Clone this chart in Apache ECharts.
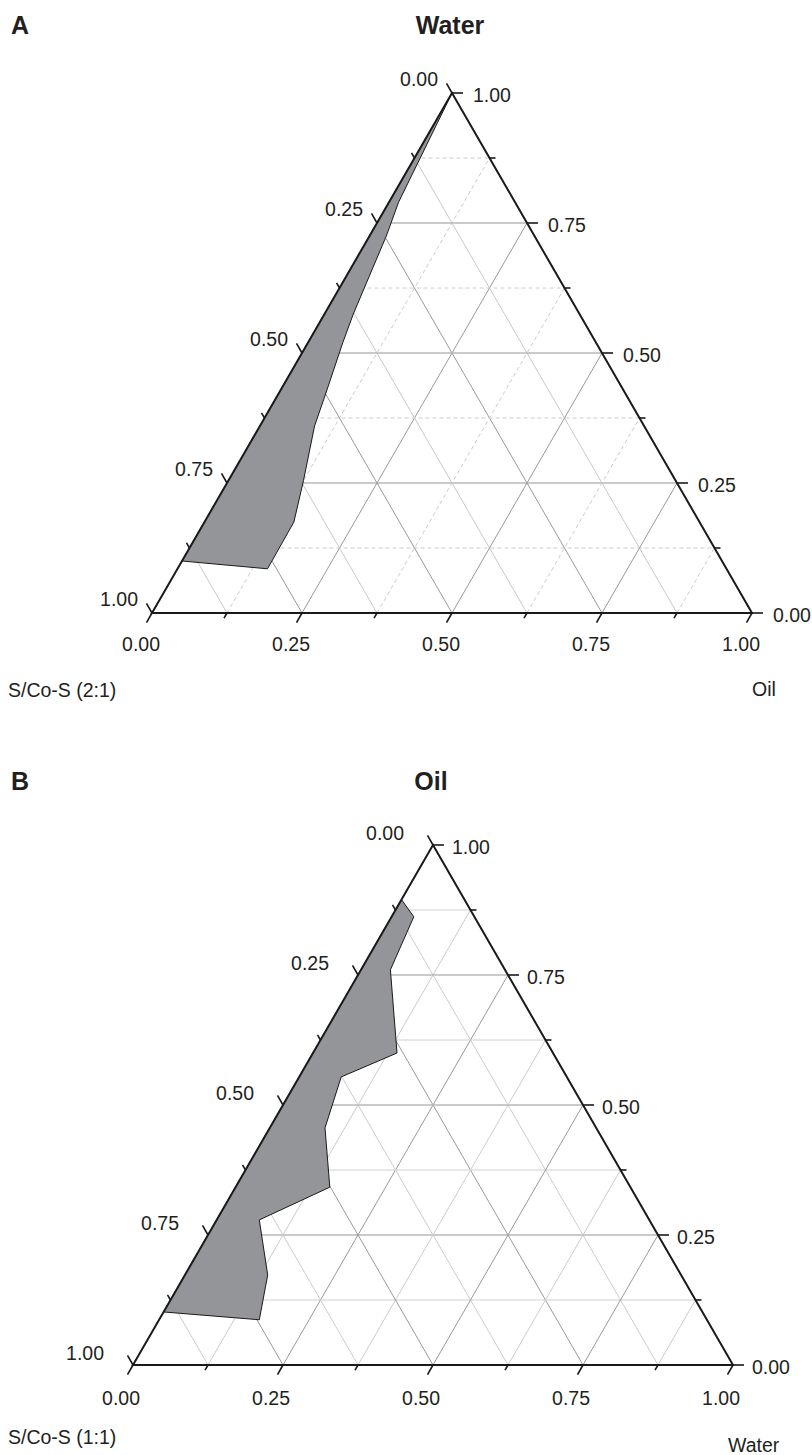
<!DOCTYPE html>
<html>
<head>
<meta charset="utf-8">
<script src="https://cdn.jsdelivr.net/npm/echarts@6/dist/echarts.min.js"></script>
<style>
html,body{margin:0;padding:0;background:#ffffff;}
#chart{width:812px;height:1455px;}
</style>
</head>
<body>
<div id="chart"></div>
<script>
// ---------- data ----------
const tickValues = [0, 0.125, 0.25, 0.375, 0.5, 0.625, 0.75, 0.875, 1];
const majorTicks = [0, 0.25, 0.5, 0.75, 1];
const tickLabels = ['0.00', '0.25', '0.50', '0.75', '1.00'];
const gridValues = [0.125, 0.25, 0.375, 0.5, 0.625, 0.75, 0.875];

// Panel A: top vertex = Water, right vertex = Oil, left vertex = S/Co-S (2:1)
const panelA_names = ['Water', 'Oil', 'S/Co-S (2:1)'];
const regionA_water = [1.00, 0.79, 0.725, 0.665, 0.575, 0.52, 0.415, 0.36, 0.255, 0.175, 0.085, 0.10];
const regionA_oil   = [0.00, 0.016, 0.028, 0.036, 0.048, 0.058, 0.080, 0.091, 0.125, 0.149, 0.150, 0.00];

// Panel B: top vertex = Oil, right vertex = Water, left vertex = S/Co-S (1:1)
const panelB_names = ['Oil', 'Water', 'S/Co-S (1:1)'];
const regionB_oil   = [0.895, 0.862, 0.76, 0.60, 0.554, 0.456, 0.342, 0.279, 0.173, 0.087, 0.102];
const regionB_water = [0.00, 0.037, 0.049, 0.14, 0.07, 0.092, 0.157, 0.071, 0.138, 0.167, 0.00];

// ---------- helpers ----------
const FONT = "'Liberation Sans', Arial, Helvetica, sans-serif";
function P(top, right) { return [right + top / 2, top]; }   // ternary -> cartesian
function isMajor(v) { return majorTicks.indexOf(v) >= 0 ? 1 : 0; }

function gridSeries(gi, st) {
  const data = [];
  gridValues.forEach(v => {
    const m = isMajor(v);
    data.push([...P(v, 0), ...P(v, 1 - v), 0, m]);          // constant top variable
    data.push([...P(0, v), ...P(1 - v, v), 1, m]);          // constant right-vertex variable
    data.push([...P(1 - v, 0), ...P(0, 1 - v), 2, m]);      // constant left-vertex variable
  });
  return {
    type: 'custom', xAxisIndex: gi, yAxisIndex: gi, z: 1, silent: true, data,
    renderItem(params, api) {
      const a = api.coord([api.value(0), api.value(1)]);
      const b = api.coord([api.value(2), api.value(3)]);
      const s = st[api.value(4)][api.value(5)];
      return { type: 'line', shape: { x1: a[0], y1: a[1], x2: b[0], y2: b[1] },
        style: { stroke: s.c, lineWidth: s.w, lineDash: s.d || null, fill: null } };
    }
  };
}

function regionSeries(gi, tops, rights) {
  const pts = tops.map((t, i) => P(t, rights[i]));
  return {
    type: 'custom', xAxisIndex: gi, yAxisIndex: gi, z: 3, silent: true, data: pts,
    renderItem(params, api) {
      if (params.dataIndex !== 0) return null;
      const points = pts.map(p => api.coord(p));
      return { type: 'polygon', shape: { points },
        style: { fill: '#939598', stroke: '#1a1a1a', lineWidth: 1 } };
    }
  };
}

function frameSeries(gi) {
  const corners = [P(0, 0), P(0, 1), P(1, 0)];
  return {
    type: 'custom', xAxisIndex: gi, yAxisIndex: gi, z: 5, silent: true, data: corners,
    renderItem(params, api) {
      if (params.dataIndex !== 0) return null;
      const points = corners.map(p => api.coord(p));
      return { type: 'polygon', shape: { points },
        style: { fill: null, stroke: '#1a1a1a', lineWidth: 2 } };
    }
  };
}

const tickDirs = [[-0.5, -0.866], [-0.5, 0.866], [1, 0]]; // left, bottom, right axis
function tickSeries(gi) {
  const data = [];
  tickValues.forEach(v => {
    const m = isMajor(v);
    data.push([...P(1 - v, 0), 0, m]);
    data.push([...P(0, v), 1, m]);
    data.push([...P(v, 1 - v), 2, m]);
  });
  return {
    type: 'custom', xAxisIndex: gi, yAxisIndex: gi, z: 6, silent: true, data,
    renderItem(params, api) {
      const a = api.coord([api.value(0), api.value(1)]);
      const d = tickDirs[api.value(2)];
      const len = api.value(3) ? 11 : 6;
      return { type: 'line', shape: { x1: a[0], y1: a[1], x2: a[0] + d[0] * len, y2: a[1] + d[1] * len },
        style: { stroke: '#1a1a1a', lineWidth: 1.6 } };
    }
  };
}

function labelSeries(gi, off) {
  const data = [];
  majorTicks.forEach((v, i) => {
    data.push([...P(1 - v, 0), 0, i]);
    data.push([...P(0, v), 1, i]);
    data.push([...P(v, 1 - v), 2, i]);
  });
  const aligns = ['right', 'center', 'left'];
  return {
    type: 'custom', xAxisIndex: gi, yAxisIndex: gi, z: 7, silent: true, data,
    renderItem(params, api) {
      const a = api.coord([api.value(0), api.value(1)]);
      const ax = api.value(2);
      const o = off[ax];
      return { type: 'text', x: a[0] + o[0], y: a[1] + o[1],
        style: { text: tickLabels[api.value(3)], fontSize: 19.5, fontFamily: FONT, fill: '#231f20',
          align: aligns[ax], verticalAlign: 'middle', textAlign: aligns[ax], textVerticalAlign: 'middle' } };
    }
  };
}

const styleA = [
  [{ c: '#cccccc', w: 1, d: [4, 3] }, { c: '#b8b8b8', w: 1.3 }],
  [{ c: '#cccccc', w: 1, d: [4, 3] }, { c: '#999999', w: 1 }],
  [{ c: '#c8c8c8', w: 1 }, { c: '#999999', w: 1 }]
];
const styleB = [
  [{ c: '#d0d0d0', w: 1 }, { c: '#b8b8b8', w: 1.3 }],
  [{ c: '#cccccc', w: 1 }, { c: '#999999', w: 1 }],
  [{ c: '#cccccc', w: 1 }, { c: '#999999', w: 1 }]
];
const offA = [[-14, -14], [-11, 31], [21, 2]];
const offB = [[-29, -12], [-12, 33], [19, 2]];

function txt(text, x, y, size, bold, align) {
  return { type: 'text', x, y, silent: true,
    style: { text, fontSize: size, fontWeight: bold ? 'bold' : 'normal', fontFamily: FONT, fill: '#231f20',
      align: align, verticalAlign: 'middle', textAlign: align, textVerticalAlign: 'middle' } };
}

const chart = echarts.init(document.getElementById('chart'), null, { renderer: 'svg', width: 812, height: 1455 });
const option = {
  animation: false,
  backgroundColor: '#ffffff',
  grid: [
    { left: 152, top: 93, width: 600, height: 520 },
    { left: 133, top: 845, width: 600, height: 520 }
  ],
  xAxis: [
    { type: 'value', gridIndex: 0, min: 0, max: 1, show: false },
    { type: 'value', gridIndex: 1, min: 0, max: 1, show: false }
  ],
  yAxis: [
    { type: 'value', gridIndex: 0, min: 0, max: 1, show: false },
    { type: 'value', gridIndex: 1, min: 0, max: 1, show: false }
  ],
  graphic: [
    txt('A', 11, 25, 25, true, 'left'),
    txt(panelA_names[0], 450, 25, 25, true, 'center'),
    txt(panelA_names[2], 8, 690, 19.5, false, 'left'),
    txt(panelA_names[1], 752, 689, 19.5, false, 'left'),
    txt('B', 11, 781, 25, true, 'left'),
    txt(panelB_names[0], 431, 781, 25, true, 'center'),
    txt(panelB_names[2], 8, 1437, 19.5, false, 'left'),
    txt(panelB_names[1], 728, 1445, 19.5, false, 'left')
  ],
  series: [
    gridSeries(0, styleA), regionSeries(0, regionA_water, regionA_oil), frameSeries(0), tickSeries(0), labelSeries(0, offA),
    gridSeries(1, styleB), regionSeries(1, regionB_oil, regionB_water), frameSeries(1), tickSeries(1), labelSeries(1, offB)
  ]
};
chart.setOption(option);
</script>
</body>
</html>
